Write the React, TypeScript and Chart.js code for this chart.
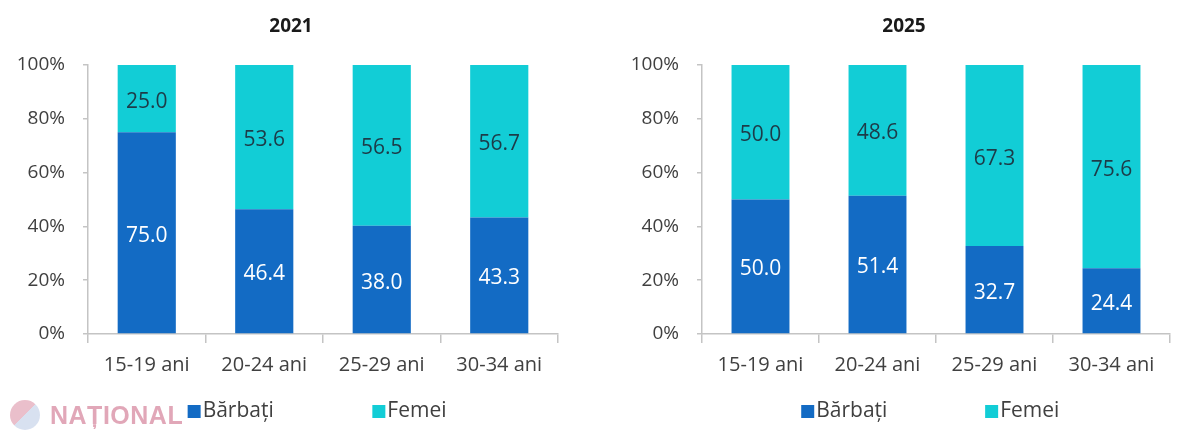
import { useEffect, useRef } from "react"
import { Chart, registerables } from "chart.js"

Chart.register(...registerables)

const categories = ["15-19 ani", "20-24 ani", "25-29 ani", "30-34 ani"]
const seriesNames = ["Bărbați", "Femei"]
const men2021 = [75.0, 46.4, 38.0, 43.3]
const women2021 = [25.0, 53.6, 56.5, 56.7]
const men2025 = [50.0, 51.4, 32.7, 24.4]
const women2025 = [50.0, 48.6, 67.3, 75.6]
const yTicks = [0, 20, 40, 60, 80, 100]

const BLUE = "#136bc4"
const CYAN = "#12cdd6"
const AXIS = "#c4c4c4"
const TEXT = "#404040"
const FONT = "'Open Sans', sans-serif"

// draws the segment values, the panel title and the legend
const decorPlugin = {
    id: "decor",
    afterDatasetsDraw(chart: any) {
        const ctx = chart.ctx
        const area = chart.chartArea
        ctx.save()
        chart.data.datasets.forEach((ds: any, di: number) => {
            const meta = chart.getDatasetMeta(di)
            meta.data.forEach((el: any, i: number) => {
                ctx.font = `21px ${FONT}`
                ctx.fillStyle = di === 0 ? "#ffffff" : "#1d3b48"
                ctx.textAlign = "center"
                ctx.textBaseline = "middle"
                ctx.fillText(ds.rawValues[i].toFixed(1), el.x, (el.y + el.base) / 2 + 3)
            })
        })
        const o = chart.options.plugins.decor
        const mid = (area.left + area.right) / 2
        ctx.font = `bold 19px ${FONT}`
        ctx.fillStyle = "#1a1a1a"
        ctx.textAlign = "center"
        ctx.textBaseline = "middle"
        ctx.fillText(o.title, mid - 32, 27)
        const w = area.right - area.left
        const colors = [BLUE, CYAN]
        const pos = [0.212, 0.605]
        seriesNames.forEach((name, i) => {
            const x = area.left + w * pos[i]
            ctx.fillStyle = colors[i]
            ctx.fillRect(x, 405, 13, 13)
            ctx.font = `21px ${FONT}`
            ctx.fillStyle = TEXT
            ctx.textAlign = "left"
            ctx.fillText(name, x + 15, 411)
        })
        ctx.restore()
    }
}

const Panel = ({ title, men, women, axisX, rightPad }: { title: string, men: number[], women: number[], axisX: number, rightPad: number }) => {
    const ref = useRef<HTMLCanvasElement>(null)
    useEffect(() => {
        if (!ref.current)
            return
        const totals = men.map((m, i) => m + women[i])
        const chart = new Chart(ref.current, {
            type: "bar",
            plugins: [decorPlugin],
            data: {
                labels: categories,
                datasets: [
                    {
                        label: seriesNames[0],
                        data: men.map((m, i) => m / totals[i] * 100),
                        rawValues: men,
                        backgroundColor: BLUE,
                    } as any,
                    {
                        label: seriesNames[1],
                        data: women.map((w, i) => w / totals[i] * 100),
                        rawValues: women,
                        backgroundColor: CYAN,
                    } as any
                ]
            },
            options: {
                responsive: false,
                animation: false,
                events: [],
                layout: { padding: { top: 65, left: 0, right: rightPad, bottom: 0 } },
                datasets: { bar: { barPercentage: 0.495, categoryPercentage: 1 } },
                plugins: {
                    legend: { display: false },
                    tooltip: { enabled: false },
                    decor: { title },
                } as any,
                scales: {
                    x: {
                        stacked: true,
                        border: { color: AXIS, width: 1.5 },
                        grid: { offset: true, drawOnChartArea: false, drawTicks: true, tickLength: 9, color: AXIS, lineWidth: 1.5 },
                        ticks: { color: TEXT, font: { family: FONT, size: 20 }, padding: 10 },
                        afterFit: (s: any) => { s.height = 104 },
                    },
                    y: {
                        stacked: true,
                        min: 0,
                        max: 100,
                        border: { color: AXIS, width: 1.5 },
                        grid: { drawOnChartArea: false, drawTicks: true, tickLength: 5, color: AXIS, lineWidth: 1.5 },
                        afterBuildTicks: (s: any) => { s.ticks = yTicks.map(v => ({ value: v })) },
                        ticks: { color: TEXT, font: { family: FONT, size: 19 }, padding: 18, callback: (v: any) => v + "%" },
                        afterFit: (s: any) => { s.width = axisX },
                    }
                }
            }
        })
        return () => {
            chart.destroy()
        }
    }, [title, men, women, axisX, rightPad])
    return <canvas ref={ref} width={600} height={438} style={{ display: "block" }}></canvas>
}

const App = () => {
    useEffect(() => {
        document.body.style.margin = "0"
    }, [])
    return <div style={{ position: "relative", width: 1200, height: 438, background: "#fff", display: "flex" }}>
        <Panel title="2021" men={men2021} women={women2021} axisX={88} rightPad={42} />
        <Panel title="2025" men={men2025} women={women2025} axisX={102} rightPad={30} />
        <div style={{ position: "absolute", left: 10, top: 400, display: "flex", alignItems: "center", opacity: 0.55 }}>
            <div style={{ width: 30, height: 30, borderRadius: "50%", background: "linear-gradient(135deg, #d98aa0 50%, #b9c8e4 50%)" }}></div>
            <span style={{ marginLeft: 10, fontFamily: "'Liberation Sans', sans-serif", fontWeight: 900, fontSize: 25, color: "#c9607f", letterSpacing: 0.5 }}>NAȚIONAL</span>
        </div>
    </div>
}
export default App
